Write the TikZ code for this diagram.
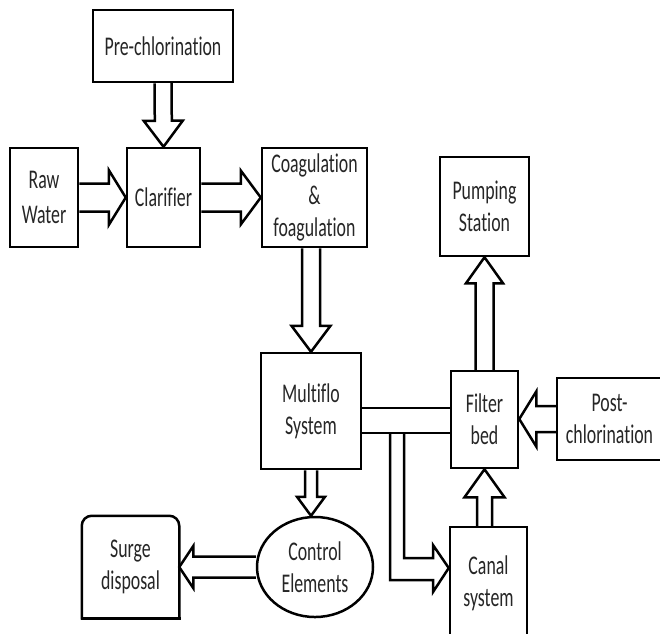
\documentclass[tikz,border=0pt]{standalone}
\usepackage{fontspec}
\setmainfont[FakeStretch=0.66, Ligatures={NoCommon}]{Carlito}
\usetikzlibrary{calc,shapes.geometric}

\tikzset{
  line/.style={line width=2.5pt, draw=black},
  box/.style={line, draw, rectangle, align=center, inner sep=0pt,
    text=black!85, font=\fontsize{27}{32}\selectfont},
  oval/.style={box, ellipse},
  flow/.style={line, miter limit=20},
}

% Outline block arrow: #1 start, #2 tip, #3 half shaft width,
% #4 half head width, #5 head length
\newcommand{\blockarrow}[5]{%
  \coordinate (ba-base) at ($(#2)!#5!(#1)$);
  \draw[flow]
    ($(#1)!#3!90:(#2)$) -- ($(ba-base)!#3!90:(#2)$)
    -- ($(ba-base)!#4!90:(#2)$) -- (#2)
    -- ($(ba-base)!#4!-90:(#2)$) -- ($(ba-base)!#3!-90:(#2)$)
    -- ($(#1)!#3!-90:(#2)$);
}

\begin{document}
\begin{tikzpicture}[x=1pt, y=-1pt]
  \useasboundingbox (0,0) rectangle (660,633);
  \fill[white] (0,0) rectangle (660,633);
  \clip (0,0) rectangle (660,633);

  % process blocks
  \node[box, minimum width=140pt, minimum height=72pt] (pre) at (163,46) {Pre-chlorination};
  \node[box, minimum width=68pt, minimum height=99pt] (raw) at (44,197.5) {Raw\\[3pt]Water};
  \node[box, minimum width=73pt, minimum height=99pt] (clar) at (163.5,197.5) {Clarifier};
  \node[box, minimum width=105pt, minimum height=99pt] (coag) at (314.5,197.5) {Coagulation\\\&\\foagulation};
  \node[box, minimum width=89pt, minimum height=99pt] (pump) at (484.5,206.5) {Pumping\\Station};
  \node[box, minimum width=100pt, minimum height=116pt] (multi) at (311,411) {Multiflo\\System};
  \node[box, minimum width=67pt, minimum height=97pt] (filter) at (484.5,419.5) {Filter\\bed};
  \node[box, minimum width=105pt, minimum height=82pt] (post) at (609.5,419) {Post-\\chlorination};
  \node[box, minimum width=77pt, minimum height=112pt] (canal) at (488.5,583) {Canal\\system};
  \node[oval, minimum width=116pt, minimum height=100pt] (ctrl) at (315,567) {Control\\Elements};
  \node[box, draw=none, minimum width=95pt, minimum height=100pt] (surge) at (130.5,567) {Surge\\disposal};

  % surge disposal outline: rounded top, square bottom
  \draw[line, rounded corners=10pt, line cap=rect]
    (surge.south west) -- (surge.north west) -- (surge.north east) -- (surge.south east);
  \draw[line, line cap=rect] (surge.south west) -- (surge.south east);

  % block arrows between stages
  \blockarrow{pre.south}{clar.north}{8.5pt}{19.5pt}{26pt}
  \blockarrow{raw.east}{clar.west}{14pt}{27.5pt}{17pt}
  \blockarrow{clar.east}{coag.west}{14pt}{27pt}{20pt}
  \coordinate (cm-start) at (multi.north |- coag.south);
  \blockarrow{cm-start}{multi.north}{9pt}{19.5pt}{26pt}
  \blockarrow{filter.north}{pump.south}{9pt}{18.5pt}{26pt}
  \coordinate (cf-start) at (filter.south |- canal.north);
  \blockarrow{cf-start}{filter.south}{7.5pt}{20pt}{28pt}
  \coordinate (pf-tip) at (post.west -| filter.east);
  \blockarrow{post.west}{pf-tip}{13pt}{27.5pt}{17pt}
  \coordinate (mc-tip) at (multi.south |- ctrl.north);
  \blockarrow{multi.south}{mc-tip}{6pt}{14pt}{19pt}
  \coordinate (cs-tip) at (ctrl.west -| surge.east);
  \blockarrow{ctrl.west}{cs-tip}{10.5pt}{21pt}{14pt}

  % channel from Multiflo to the filter bed
  \draw[flow] (multi.east |- 0,408) -- (filter.west |- 0,408);
  \draw[flow] (multi.east |- 0,433) -- (filter.west |- 0,433);

  % branch from the channel down to the canal system
  \coordinate (br-tip) at (canal.west |- 0,568);
  \draw[flow] (390,433) -- (390,580) -- (433,580) -- (433,592) -- (br-tip)
    -- (433,545) -- (433,558) -- (404,558) -- (404,433);
\end{tikzpicture}
\end{document}
